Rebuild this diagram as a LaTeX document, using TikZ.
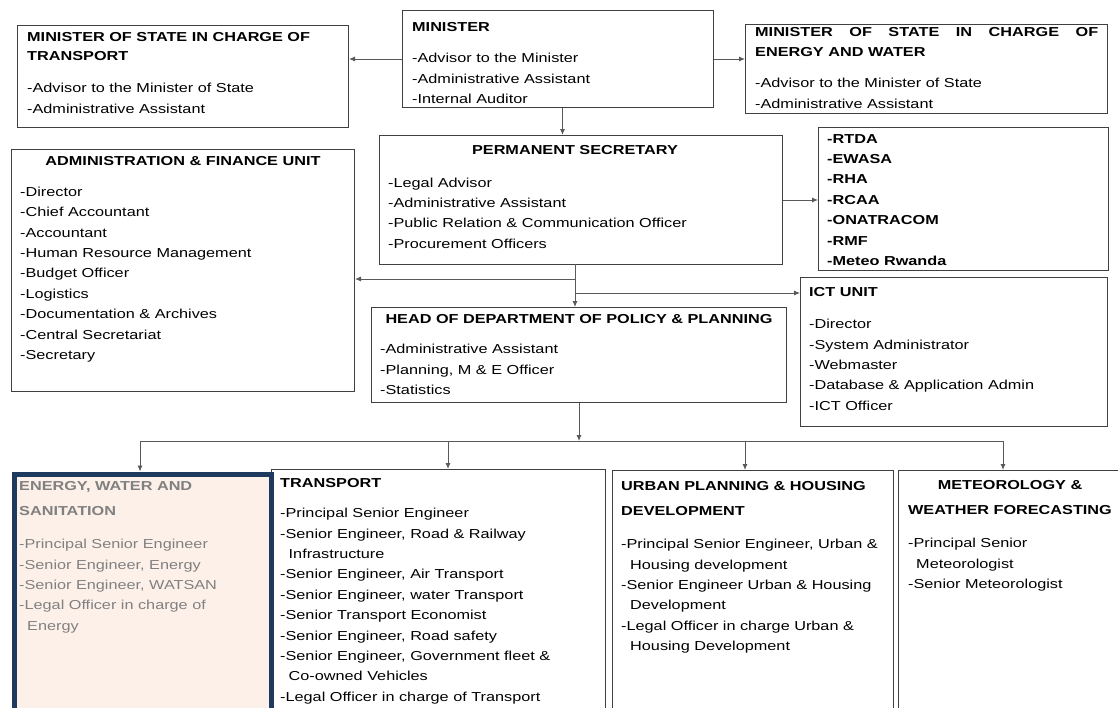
\documentclass[tikz,border=0pt]{standalone}
\usepackage{fontspec}
\setmainfont{Liberation Sans}[FakeStretch=1.25]
\usetikzlibrary{arrows.meta}
\definecolor{navy}{HTML}{1F3A5F}
\definecolor{peach}{HTML}{FDF0E9}
\definecolor{mute}{HTML}{808080}
\newcommand{\chartfont}{\fontsize{13}{20.4}\selectfont}
\tikzset{
  box/.style={draw=black!75, line width=1pt, anchor=north west, inner sep=0pt},
  txt/.style={anchor=north west, yshift=10pt, inner sep=0pt, align=left,
    execute at begin node=\rule{0pt}{10pt}},
  head/.style={txt, font=\chartfont\bfseries},
  list/.style={txt, font=\chartfont},
  link/.style={draw=black!65, line width=0.9pt, -{Latex[length=6pt,width=5pt]}},
}
\begin{document}
\begin{tikzpicture}[x=1pt, y=-1pt]
  \fill[white] (0,0) rectangle (1118,707);
  \useasboundingbox (0,0) rectangle (1118,707);
  \clip (0,0) rectangle (1118,707);

  % Top row
  \node[box, minimum width=311, minimum height=97] (minister) at (402,10) {};
  \node[box, minimum width=331, minimum height=102] (mint) at (17,25) {};
  \node[box, minimum width=362, minimum height=89] (minew) at (745,24) {};

  \node[head] (minister-t) at (412,31) {MINISTER};
  \node[list] (minister-l) at (412,63) {-Advisor to the Minister\\-Administrative Assistant\\-Internal Auditor};
  \node[head] (mint-t) at (27,42) {MINISTER OF STATE IN CHARGE OF\\[-1.4pt]TRANSPORT};
  \node[list] (mint-l) at (27,93) {-Advisor to the Minister of State\\-Administrative Assistant};
  \node[head] (minew-t) at (755,37) {\hbox to 343pt{MINISTER\hfill OF\hfill STATE\hfill IN\hfill CHARGE\hfill OF}\\[-0.4pt]ENERGY AND WATER};
  \node[list] (minew-l) at (755,88) {-Advisor to the Minister of State\\-Administrative Assistant};

  % Secretariat level
  \node[box, minimum width=403, minimum height=129] (ps) at (379,135) {};
  \node[box, minimum width=290, minimum height=143] (agency) at (818,127) {};
  \node[box, minimum width=343, minimum height=242] (admin) at (11,149) {};
  \node[box, minimum width=307, minimum height=149] (ict) at (800,277) {};
  \node[box, minimum width=415, minimum height=95] (hod) at (371,307) {};

  \node[head, anchor=north] (ps-t) at (575,154.5) {PERMANENT SECRETARY};
  \node[list] (ps-l) at (388,187.5) {-Legal Advisor\\-Administrative Assistant\\-Public Relation \& Communication Officer\\-Procurement Officers};
  \node[head] (agency-l) at (827,144) {-RTDA\\-EWASA\\-RHA\\-RCAA\\-ONATRACOM\\-RMF\\-Meteo Rwanda};
  \node[head, anchor=north] (admin-t) at (183,165.7) {ADMINISTRATION \& FINANCE UNIT};
  \node[list] (admin-l) at (20,196.7) {-Director\\-Chief Accountant\\-Accountant\\-Human Resource Management\\-Budget Officer\\-Logistics\\-Documentation \& Archives\\-Central Secretariat\\-Secretary};
  \node[head] (ict-t) at (809,296.7) {ICT UNIT};
  \node[list] (ict-l) at (809,329) {-Director\\-System Administrator\\-Webmaster\\-Database \& Application Admin\\-ICT Officer};
  \node[head, anchor=north] (hod-t) at (579,323) {HEAD OF DEPARTMENT OF POLICY \& PLANNING};
  \node[list] (hod-l) at (380,354) {-Administrative Assistant\\-Planning, M \& E Officer\\-Statistics};

  % Divisions
  \node[box, minimum width=334, minimum height=260] (transport) at (271,469) {};
  \node[box, draw=navy, line width=5pt, fill=peach, minimum width=257, minimum height=260] (energy) at (11.5,471.5) {};
  \node[box, minimum width=281, minimum height=260] (urban) at (612,470) {};
  \node[box, minimum width=240, minimum height=260] (met) at (898,470) {};

  \node[head, text=mute] (energy-t) at (19,491) {ENERGY, WATER AND\\[4.6pt]SANITATION};
  \node[list, text=mute] (energy-l) at (19,549) {-Principal Senior Engineer\\-Senior Engineer, Energy\\-Senior Engineer, WATSAN\\-Legal Officer in charge of\\\hspace*{8pt}Energy};
  \node[head] (transport-t) at (280,487) {TRANSPORT};
  \node[list] (transport-l) at (280,518) {-Principal Senior Engineer\\-Senior Engineer, Road \& Railway\\\hspace*{8.5pt}Infrastructure\\-Senior Engineer, Air Transport\\-Senior Engineer, water Transport\\-Senior Transport Economist\\-Senior Engineer, Road safety\\-Senior Engineer, Government fleet \&\\\hspace*{8.5pt}Co-owned Vehicles\\-Legal Officer in charge of Transport};
  \node[head] (urban-t) at (621,491) {URBAN PLANNING \& HOUSING\\[4.6pt]DEVELOPMENT};
  \node[list] (urban-l) at (621,549) {-Principal Senior Engineer, Urban \&\\\hspace*{9pt}Housing development\\-Senior Engineer Urban \& Housing\\\hspace*{9pt}Development\\-Legal Officer in charge Urban \&\\\hspace*{9pt}Housing Development};
  \node[head, anchor=north, align=center] (met-t) at (1010,490) {METEOROLOGY \&\\[4.6pt]WEATHER FORECASTING};
  \node[list] (met-l) at (908,548) {-Principal Senior\\\hspace*{8pt}Meteorologist\\-Senior Meteorologist};

  % Connectors
  \draw[link] (minister.west) -- (minister.west -| mint.east);
  \draw[link] (minister.east) -- (minister.east -| minew.west);
  \draw[link] ([xshift=4.5pt]minister.south) -- ([xshift=4.5pt]minister.south |- ps.north);
  \draw[link] (ps.east) -- (ps.east -| agency.west);

  \coordinate (fork) at (575,264);
  \coordinate (toadmin) at (575,279);
  \coordinate (toict) at (575,293);
  \draw[link] (fork) -- (fork |- hod.north);
  \draw[link] (toadmin) -- (toadmin -| admin.east);
  \draw[link] (toict) -- (toict -| ict.west);

  \coordinate (busl) at (140,441);
  \coordinate (busr) at (1003,441);
  \draw[draw=black!65, line width=0.9pt] (busl) -- (busr);
  \draw[link] (hod.south) -- (hod.south |- busl);
  \foreach \b/\x in {energy/140, transport/448, urban/745, met/1003}{
    \coordinate (tap-\b) at (\x,441);
    \draw[link] (tap-\b) -- (tap-\b |- \b.north);
  }
\end{tikzpicture}
\end{document}
